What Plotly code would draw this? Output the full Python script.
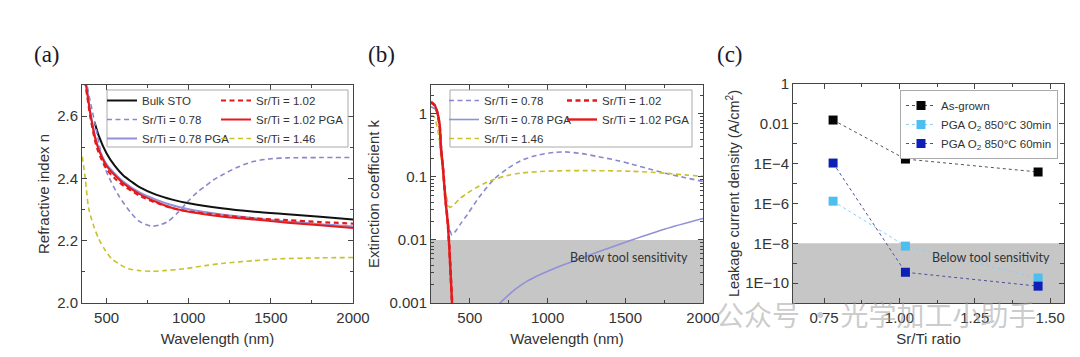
import plotly.graph_objects as go

W, H = 1080, 357

# ---------------- Panel (a): refractive index ----------------
wl_bulk = [427, 450, 500, 550, 600, 650, 700, 800, 900, 1000, 1200, 1400, 1600, 1800, 2000]
n_bulk = [2.58, 2.54, 2.48, 2.44, 2.41, 2.39, 2.372, 2.348, 2.332, 2.32, 2.304, 2.293, 2.285, 2.277, 2.268]

wl_a = [360, 380, 400, 430, 450, 500, 550, 600, 700, 800, 900, 1000, 1200, 1400, 1600, 1800, 2000]
n_078_pga = [2.76, 2.69, 2.615, 2.535, 2.5, 2.445, 2.415, 2.39, 2.355, 2.332, 2.314, 2.301, 2.284, 2.272, 2.262, 2.253, 2.246]
n_102 = [2.74, 2.67, 2.6, 2.52, 2.485, 2.43, 2.4, 2.378, 2.345, 2.322, 2.305, 2.294, 2.282, 2.272, 2.266, 2.26, 2.255]
n_102_pga = [2.75, 2.68, 2.61, 2.53, 2.495, 2.44, 2.41, 2.385, 2.35, 2.325, 2.305, 2.293, 2.278, 2.268, 2.258, 2.25, 2.241]

wl_078 = [355, 381, 431, 491, 572, 652, 700, 772, 820, 873, 933, 993, 1050, 1100, 1150, 1200, 1300, 1400, 1500, 1600, 1800, 2000]
n_078 = [2.80, 2.70, 2.571, 2.432, 2.346, 2.287, 2.262, 2.247, 2.25, 2.262, 2.29, 2.325, 2.355, 2.375, 2.395, 2.41, 2.437, 2.455, 2.463, 2.466, 2.467, 2.467]

wl_146 = [352, 370, 391, 420, 451, 490, 531, 580, 632, 700, 772, 850, 973, 1100, 1200, 1400, 1557, 1800, 2000]
n_146 = [2.47, 2.40, 2.303, 2.25, 2.207, 2.17, 2.142, 2.124, 2.11, 2.104, 2.102, 2.104, 2.11, 2.12, 2.127, 2.136, 2.142, 2.145, 2.146]

# ---------------- Panel (b): extinction coefficient ----------------
wl_k_102 = [250, 271, 289, 306, 314, 327, 342, 357, 368, 379, 385, 392]
k_102_pga = [1.57, 1.42, 1.11, 0.68, 0.29, 0.139, 0.046, 0.0195, 0.0074, 0.0021, 0.00105, 0.0005]
k_102 = [1.5, 1.4, 1.08, 0.62, 0.3, 0.14, 0.047, 0.02, 0.0076, 0.0022, 0.0011, 0.0005]

wl_k_078 = [250, 275, 295, 315, 335, 353, 370, 385, 410, 440, 482, 560, 653, 740, 825, 930, 1040, 1112, 1220, 1327, 1440, 1541, 1650, 1756, 1880, 2000]
k_078 = [1.3, 1.2, 0.9, 0.35, 0.08, 0.025, 0.015, 0.012, 0.014, 0.018, 0.025, 0.048, 0.091, 0.135, 0.18, 0.22, 0.245, 0.25, 0.235, 0.21, 0.185, 0.16, 0.135, 0.115, 0.098, 0.085]

wl_k_146 = [250, 270, 299, 314, 332, 349, 370, 396, 430, 482, 560, 653, 740, 825, 950, 1125, 1300, 1541, 1756, 1900, 2000]
k_146 = [0.95, 0.9, 0.47, 0.23, 0.085, 0.049, 0.033, 0.036, 0.044, 0.055, 0.072, 0.091, 0.105, 0.115, 0.122, 0.126, 0.126, 0.123, 0.115, 0.107, 0.103]

wl_k_078_pga = [650, 694, 750, 800, 866, 950, 1050, 1166, 1327, 1541, 1756, 2000]
k_078_pga = [0.00076, 0.001, 0.00135, 0.0017, 0.0022, 0.0028, 0.0036, 0.0046, 0.0065, 0.010, 0.015, 0.022]

k_sensitivity = 0.01

# ---------------- Panel (c): leakage current ----------------
ratio = [0.78, 1.02, 1.46]
j_asgrown = [0.0155, 1.7e-4, 3.8e-5]
j_pga30 = [1.3e-6, 7.2e-9, 1.8e-10]
j_pga60 = [1.07e-4, 3.5e-10, 7e-11]
j_sensitivity = 1e-8

tick_a_x = [500, 1000, 1500, 2000]
tick_a_y = [2.0, 2.2, 2.4, 2.6]
tick_b_y = [0.001, 0.01, 0.1, 1]
tick_b_y_text = ["0.001", "0.01", "0.1", "1"]
tick_c_y = [1, 1e-2, 1e-4, 1e-6, 1e-8, 1e-10]
tick_c_y_text = ["1", "0.01", "1E\u22124", "1E\u22126", "1E\u22128", "1E\u221210"]
tick_c_x = [0.75, 1.0, 1.25, 1.5]
tick_c_x_text = ["0.75", "1.00", "1.25", "1.50"]

# colours
BLACK = "#111111"
LAV = "#8a88cc"
LAV2 = "#9190d8"
RED = "#e31a1c"
YEL = "#c9c22b"
LBLUE = "#4dbef0"
DBLUE = "#0d1fb5"

DASH = "5px,3.5px"
FONT = "Liberation Sans, Arial, sans-serif"

fig = go.Figure()

def line(x, y, name, color, dash, width, xa, ya, legend, shape="spline"):
    fig.add_trace(go.Scatter(
        x=x, y=y, name=name, mode="lines",
        line=dict(color=color, dash=dash, width=width, shape=shape, smoothing=0.8),
        xaxis=xa, yaxis=ya, legend=legend))

# (a)
line(wl_bulk, n_bulk, "Bulk STO", BLACK, "solid", 2, "x", "y", "legend")
line(wl_078, n_078, "Sr/Ti = 0.78", LAV, DASH, 1.6, "x", "y", "legend")
line(wl_a, n_078_pga, "Sr/Ti = 0.78 PGA", LAV2, "solid", 2, "x", "y", "legend")
line(wl_a, n_102, "Sr/Ti = 1.02", RED, DASH, 2.2, "x", "y", "legend2")
line(wl_a, n_102_pga, "Sr/Ti = 1.02 PGA", RED, "solid", 2, "x", "y", "legend2")
line(wl_146, n_146, "Sr/Ti = 1.46", YEL, DASH, 1.6, "x", "y", "legend2")

# (b)
line(wl_k_078, k_078, "Sr/Ti = 0.78", LAV, DASH, 1.6, "x2", "y2", "legend3")
line(wl_k_078_pga, k_078_pga, "Sr/Ti = 0.78 PGA", LAV2, "solid", 1.6, "x2", "y2", "legend3")
line(wl_k_146, k_146, "Sr/Ti = 1.46", YEL, DASH, 1.6, "x2", "y2", "legend3")
line(wl_k_102, k_102, "Sr/Ti = 1.02", RED, DASH, 2.6, "x2", "y2", "legend4")
line(wl_k_102, k_102_pga, "Sr/Ti = 1.02 PGA", RED, "solid", 2.4, "x2", "y2", "legend4")

# (c)
for ys, name, col, lcol in [
    (j_asgrown, "As-grown", "#050505", "#555555"),
    (j_pga30, "PGA O<sub>2</sub> 850\u00b0C 30min", LBLUE, "#8ccff0"),
    (j_pga60, "PGA O<sub>2</sub> 850\u00b0C 60min", DBLUE, "#4a4f9a"),
]:
    fig.add_trace(go.Scatter(
        x=ratio, y=ys, name=name, mode="lines+markers",
        line=dict(color=lcol, dash="dot", width=1),
        marker=dict(symbol="square", size=9, color=col, line=dict(width=0)),
        xaxis="x3", yaxis="y3", legend="legend5"))

def px_x(v):
    return v / W

def px_y(v):
    return 1 - v / H

ax_common = dict(showline=True, linecolor="#444", linewidth=1, mirror="allticks",
                 ticks="inside", ticklen=5, tickcolor="#444", showgrid=False, zeroline=False,
                 automargin=False,
                 tickfont=dict(size=15, color="#333", family=FONT))
tfont = dict(size=15, color="#333", family=FONT)

def log_minor(lo, hi):
    vals = []
    for e in range(lo, hi + 1):
        for m in range(2, 10):
            vals.append(m * 10 ** e)
    return vals

fig.update_layout(
    width=W, height=H, autosize=False,
    margin=dict(l=0, r=0, t=0, b=0, pad=0, autoexpand=False),
    paper_bgcolor="white", plot_bgcolor="white",
    font=dict(family=FONT, color="#333"),
    showlegend=True,
    xaxis=dict(domain=[px_x(82), px_x(353)], range=[350, 2000], tickvals=tick_a_x,
               ticklabelstandoff=1,
               minor=dict(dtick=250, tick0=0, ticks="inside", ticklen=3, tickcolor="#444"),
               title=dict(text="Wavelength (nm)", standoff=8, font=tfont), anchor="y", **ax_common),
    yaxis=dict(domain=[px_y(303), px_y(85)], range=[2.0, 2.7], tickvals=tick_a_y,
               tickformat=".1f",
               minor=dict(dtick=0.1, tick0=0, ticks="inside", ticklen=3, tickcolor="#444"),
               title=dict(text="Refractive index n", standoff=3, font=tfont), anchor="x", **ax_common),
    xaxis2=dict(domain=[px_x(431), px_x(703)], range=[250, 2000], tickvals=tick_a_x,
                ticklabelstandoff=1,
                minor=dict(dtick=250, tick0=0, ticks="inside", ticklen=3, tickcolor="#444"),
                title=dict(text="Wavelength (nm)", standoff=8, font=tfont), anchor="y2", **ax_common),
    yaxis2=dict(domain=[px_y(303), px_y(85)], type="log", range=[-3, 0.46],
                tickvals=tick_b_y, ticktext=tick_b_y_text,
                minor=dict(tickvals=log_minor(-3, 0), ticks="inside", ticklen=3, tickcolor="#444"),
                title=dict(text="Extinction coefficient k", standoff=6, font=tfont), anchor="x2", **ax_common),
    xaxis3=dict(domain=[px_x(793), px_x(1064)], range=[0.647, 1.546],
                tickvals=tick_c_x, ticktext=tick_c_x_text, ticklabelstandoff=1,
                minor=dict(dtick=0.125, tick0=0, ticks="inside", ticklen=3, tickcolor="#444"),
                title=dict(text="Sr/Ti ratio", standoff=8, font=tfont), anchor="y3", **ax_common),
    yaxis3=dict(domain=[px_y(303), px_y(84)], type="log", range=[-11, 0],
                tickvals=tick_c_y, ticktext=tick_c_y_text,
                minor=dict(tickvals=[10 ** e for e in range(-11, 0, 2)], ticks="inside", ticklen=4, tickcolor="#444"),
                title=dict(text="Leakage current density (A/cm<sup>2</sup>)", standoff=2,
                           font=dict(size=14.5, color="#333", family=FONT)), anchor="x3", **ax_common),
)

leg_common = dict(bgcolor="rgba(0,0,0,0)", borderwidth=0, font=dict(size=11.5, color="#333", family=FONT),
                  xanchor="left", yanchor="top", itemwidth=30, tracegroupgap=0)
fig.update_layout(
    legend=dict(x=px_x(102), y=px_y(86), **leg_common),
    legend2=dict(x=px_x(216), y=px_y(86), **leg_common),
    legend3=dict(x=px_x(444), y=px_y(86), **leg_common),
    legend4=dict(x=px_x(562), y=px_y(86), **leg_common),
    legend5=dict(x=px_x(900), y=px_y(90), bgcolor="white", bordercolor="#aaa", borderwidth=1,
                 font=dict(size=11.5, color="#333", family=FONT), xanchor="left", yanchor="top",
                 itemwidth=30, tracegroupgap=0),
)

# shaded "below sensitivity" regions
fig.add_shape(type="rect", xref="x2 domain", yref="y2", x0=0, x1=1, y0=1e-3, y1=k_sensitivity,
              fillcolor="#c6c6c6", line=dict(width=0), layer="below")
fig.add_shape(type="rect", xref="x3 domain", yref="y3", x0=0, x1=1, y0=1e-11, y1=j_sensitivity,
              fillcolor="#c6c6c6", line=dict(width=0), layer="below")
# legend frames (a), (b)
fig.add_shape(type="rect", xref="paper", yref="paper", x0=px_x(107), x1=px_x(348), y0=px_y(147), y1=px_y(90),
              line=dict(color="#aaa", width=1), fillcolor="rgba(255,255,255,0)", layer="above")
fig.add_shape(type="rect", xref="paper", yref="paper", x0=px_x(450), x1=px_x(692), y0=px_y(147), y1=px_y(90),
              line=dict(color="#aaa", width=1), fillcolor="rgba(255,255,255,0)", layer="above")

# annotations
for txt, xc in [("(a)", 47), ("(b)", 381), ("(c)", 730)]:
    fig.add_annotation(text=txt, x=px_x(xc), y=px_y(54), xref="paper", yref="paper",
                       xanchor="center", yanchor="middle",
                       showarrow=False, font=dict(family="Liberation Serif, Times New Roman, serif", size=23, color="#1a1a2a"))
for xr in [690, 1052]:
    fig.add_annotation(text="Below tool sensitivity", x=px_x(xr), y=px_y(257), xref="paper", yref="paper",
                       xanchor="right", yanchor="middle", showarrow=False,
                       font=dict(family="Lato, Open Sans, sans-serif", size=12.5, color="#333"))

fig.add_annotation(text="公众号 · 光学加工小助手", x=px_x(876), y=px_y(314), xref="paper", yref="paper",
                   xanchor="center", yanchor="middle",
                   showarrow=False, font=dict(family="Noto Sans CJK SC", size=28, color="rgba(160,160,160,0.55)"))

fig.write_html("out.html", config={"displayModeBar": False},
               post_script="document.body.style.margin='0';document.body.style.overflow='hidden';")
